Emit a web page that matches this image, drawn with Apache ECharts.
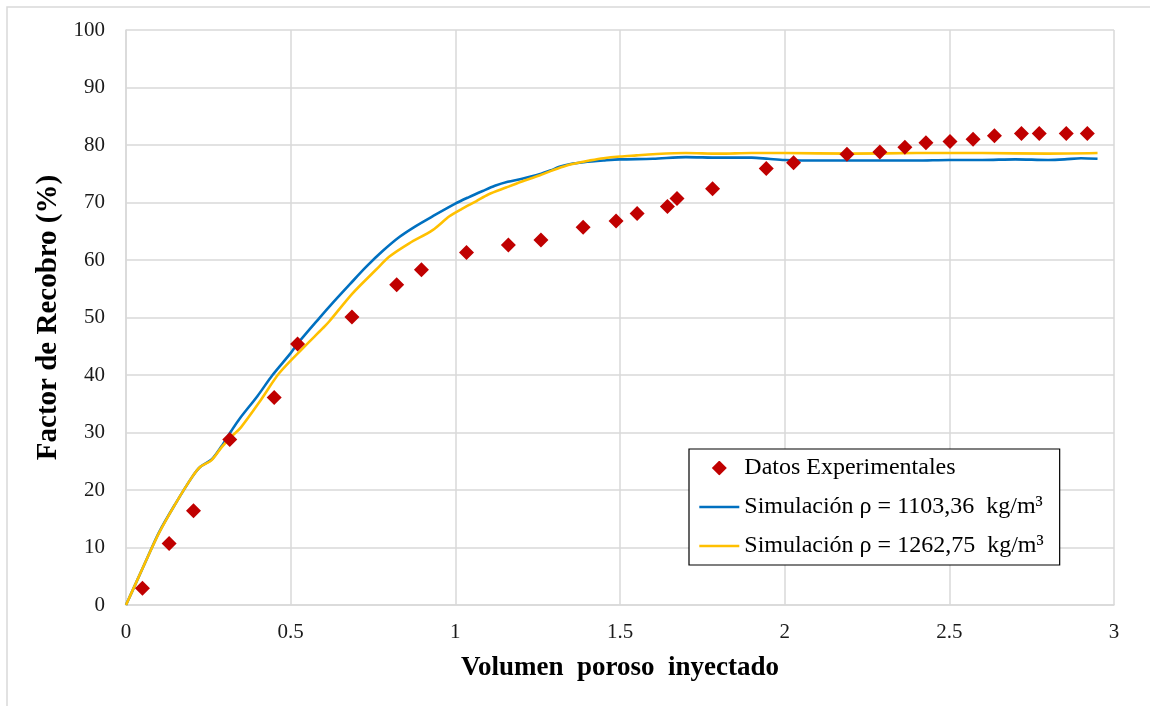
<!DOCTYPE html>
<html>
<head>
<meta charset="utf-8">
<script src="https://cdn.jsdelivr.net/npm/echarts@6/dist/echarts.min.js"></script>
<style>
  html, body { margin: 0; padding: 0; background: #ffffff; }
  #chart { width: 1150px; height: 706px; }
</style>
</head>
<body>
<div id="chart"></div>
<script>
// Recovery factor vs. injected pore volume: lab measurements and two simulation runs
const xTicks = [0, 0.5, 1, 1.5, 2, 2.5, 3];
const yTicks = [0, 10, 20, 30, 40, 50, 60, 70, 80, 90, 100];

const seriesNames = [
  'Datos Experimentales',
  'Simulación ρ = 1103,36  kg/m³',
  'Simulación ρ = 1262,75  kg/m³'
];

// Experimental points [pore volume, recovery %]
const experimental = [
  [0.05, 2.9], [0.131, 10.7], [0.205, 16.4], [0.315, 28.8], [0.45, 36.1],
  [0.521, 45.4], [0.686, 50.1], [0.822, 55.7], [0.897, 58.3], [1.034, 61.3],
  [1.161, 62.6], [1.26, 63.5], [1.388, 65.7], [1.488, 66.8], [1.552, 68.1],
  [1.644, 69.3], [1.673, 70.7], [1.781, 72.4], [1.944, 75.9], [2.027, 76.9],
  [2.189, 78.4], [2.289, 78.8], [2.365, 79.6], [2.429, 80.4], [2.502, 80.6],
  [2.572, 81.0], [2.637, 81.6], [2.719, 82.0], [2.773, 82.0], [2.855, 82.0],
  [2.919, 82.0]
];

// Simulation, density 1103.36 kg/m3
const simLight = [
  [0, 0], [0.03, 3.8], [0.06, 7.6], [0.1, 12.6], [0.15, 17.6], [0.2, 22.2],
  [0.225, 24.0], [0.26, 25.3], [0.29, 27.6], [0.32, 30.3], [0.345, 32.4],
  [0.4, 36.4], [0.445, 40.0], [0.5, 43.8], [0.52, 45.4], [0.587, 49.9],
  [0.627, 52.5], [0.68, 55.8], [0.729, 58.8], [0.78, 61.6], [0.83, 64.0],
  [0.88, 65.9], [0.931, 67.6], [1.0, 69.8], [1.04, 70.9], [1.083, 72.0],
  [1.12, 72.9], [1.159, 73.6], [1.2, 74.1], [1.255, 74.9], [1.29, 75.6],
  [1.316, 76.2], [1.35, 76.7], [1.39, 77.0], [1.45, 77.3], [1.5, 77.5],
  [1.6, 77.6], [1.7, 77.9], [1.8, 77.8], [1.9, 77.8], [1.95, 77.6],
  [2.0, 77.4], [2.1, 77.3], [2.2, 77.3], [2.3, 77.3], [2.4, 77.3],
  [2.5, 77.4], [2.6, 77.4], [2.7, 77.5], [2.8, 77.4], [2.85, 77.5],
  [2.9, 77.7], [2.95, 77.6]
];

// Simulation, density 1262.75 kg/m3
const simHeavy = [
  [0, 0], [0.03, 3.8], [0.06, 7.6], [0.1, 12.5], [0.15, 17.6], [0.2, 22.2],
  [0.225, 24.0], [0.26, 25.2], [0.29, 27.4], [0.32, 29.3], [0.349, 30.9],
  [0.41, 35.7], [0.465, 40.3], [0.536, 44.6], [0.597, 48.1], [0.617, 49.3],
  [0.688, 54.2], [0.759, 58.3], [0.8, 60.6], [0.86, 62.9], [0.931, 65.2],
  [0.982, 67.6], [1.02, 68.9], [1.063, 70.2], [1.1, 71.4], [1.154, 72.6],
  [1.2, 73.6], [1.255, 74.7], [1.3, 75.7], [1.336, 76.4], [1.38, 77.0],
  [1.407, 77.3], [1.45, 77.7], [1.5, 78.0], [1.55, 78.2], [1.6, 78.4],
  [1.7, 78.6], [1.8, 78.5], [1.9, 78.6], [2.0, 78.6], [2.2, 78.5],
  [2.4, 78.6], [2.6, 78.6], [2.8, 78.5], [2.95, 78.6]
];

const FONT = '"Liberation Serif", "Times New Roman", serif';
const GRID_COLOR = '#d9d9d9';
const MARKER_RED = '#c00000';
const BLUE = '#0070c0';
const GOLD = '#ffc000';

// Legend key for the scatter series: a small diamond centred in a 40x15 box,
// so it keeps its shape while the line keys use the full width.
const diamondKey = 'image://data:image/svg+xml;charset=utf-8,' + encodeURIComponent(
  '<svg xmlns="http://www.w3.org/2000/svg" width="40" height="15" viewBox="0 0 40 15">' +
  '<polygon points="20,0 27.5,7.5 20,15 12.5,7.5" fill="' + MARKER_RED + '"/></svg>'
);

const chart = echarts.init(document.getElementById('chart'), null, { renderer: 'canvas' });

chart.setOption({
  backgroundColor: '#ffffff',
  animation: false,
  graphic: [{
    type: 'rect',
    shape: { x: 7, y: 7, width: 1200, height: 800 },
    style: { fill: 'none', stroke: GRID_COLOR, lineWidth: 1.5 },
    silent: true, z: -1
  }],
  grid: { left: 126, top: 30, width: 988, height: 575, containLabel: false },
  xAxis: {
    type: 'value',
    min: xTicks[0],
    max: xTicks[xTicks.length - 1],
    interval: 0.5,
    name: 'Volumen  poroso  inyectado',
    nameLocation: 'middle',
    nameGap: 50,
    nameTextStyle: { fontFamily: FONT, fontWeight: 'bold', fontSize: 27, color: '#000' },
    axisLine: { show: true, lineStyle: { color: GRID_COLOR, width: 1.5 } },
    axisTick: { show: false },
    axisLabel: { fontFamily: FONT, fontSize: 21, color: '#1a1a1a', margin: 17 },
    splitLine: { show: true, lineStyle: { color: GRID_COLOR, width: 1.5 } }
  },
  yAxis: {
    type: 'value',
    min: yTicks[0],
    max: yTicks[yTicks.length - 1],
    interval: 10,
    name: 'Factor de Recobro (%)',
    nameLocation: 'middle',
    nameGap: 57,
    nameTextStyle: { fontFamily: FONT, fontWeight: 'bold', fontSize: 29, color: '#000' },
    axisLine: { show: true, lineStyle: { color: GRID_COLOR, width: 1.5 } },
    axisTick: { show: false },
    axisLabel: { fontFamily: FONT, fontSize: 21, color: '#1a1a1a', margin: 21 },
    splitLine: { show: true, lineStyle: { color: GRID_COLOR, width: 1.5 } }
  },
  legend: {
    orient: 'vertical',
    left: 689,
    top: 449,
    backgroundColor: '#ffffff',
    borderColor: '#000000',
    borderWidth: 1.2,
    borderRadius: 0,
    padding: [6, 16, 6, 9],
    itemGap: 13,
    itemWidth: 40,
    itemHeight: 15,
    textStyle: { fontFamily: FONT, fontSize: 24, color: '#000', lineHeight: 26 },
    data: [
      { name: seriesNames[0], icon: diamondKey },
      { name: seriesNames[1], itemStyle: { opacity: 0 }, lineStyle: { color: BLUE, width: 2.6 } },
      { name: seriesNames[2], itemStyle: { opacity: 0 }, lineStyle: { color: GOLD, width: 2.6 } }
    ]
  },
  series: [
    {
      name: seriesNames[0],
      type: 'scatter',
      data: experimental,
      symbol: 'diamond',
      symbolSize: 15,
      itemStyle: { color: MARKER_RED, opacity: 1 },
      z: 5
    },
    {
      name: seriesNames[1],
      type: 'line',
      data: simLight,
      symbol: 'none',
      smooth: 0.3,
      lineStyle: { color: BLUE, width: 2.6 },
      itemStyle: { color: BLUE },
      z: 3
    },
    {
      name: seriesNames[2],
      type: 'line',
      data: simHeavy,
      symbol: 'none',
      smooth: 0.3,
      lineStyle: { color: GOLD, width: 2.6 },
      itemStyle: { color: GOLD },
      z: 4
    }
  ]
});
</script>
</body>
</html>
